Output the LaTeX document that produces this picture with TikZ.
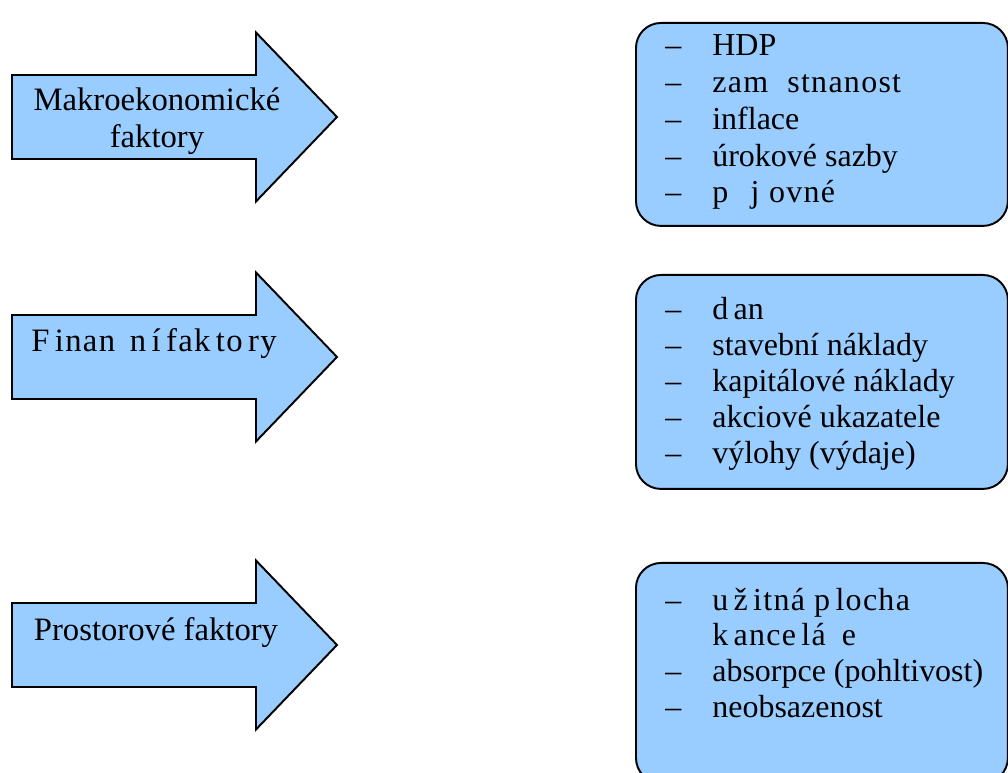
\documentclass[tikz,border=0pt]{standalone}
\usepackage{fontspec}
\setmainfont{Liberation Serif}
\newfontfamily\spaced[LetterSpace=4]{Liberation Serif}
\usetikzlibrary{positioning}
\definecolor{factorblue}{HTML}{99CCFF}
\tikzset{
  factor/.style={fill=factorblue,draw=black,line width=1.1pt,line join=miter},
  itembox/.style={fill=factorblue,draw=black,line width=1.1pt,rounded corners=0.5cm,
    anchor=north west,minimum width=7.44cm,inner sep=0pt},
  factortext/.style={font=\fontsize{18.6}{20.8}\selectfont,align=center,inner sep=0pt},
  item/.style={font=\fontsize{18.2}{20.8}\selectfont,anchor=base west,inner sep=0pt}
}
\newcommand{\dash}{\llap{\makebox[0.94cm][l]{--}}}
\newcommand{\factorarrow}[1]{%
  \draw[factor,shift={(0,#1)}] (12,-42) -- (256,-42) -- (256,-84.5) -- (337,0)
    -- (256,84.5) -- (256,42) -- (12,42) -- cycle;}

\begin{document}
\begin{tikzpicture}[x=0.02cm,y=-0.02cm]
  \useasboundingbox (0,0) rectangle (1008,773);

  % left arrows
  \factorarrow{117}
  \factorarrow{357}
  \factorarrow{645}
  \node[factortext] (makro) at (157,121) {Makroekonomické\\faktory};
  \node[factortext,anchor=base] (finan) at (154,352) {\spaced F\,inan\hspace{0.45em}n\,í\,fak\,to\,ry};
  \node[factortext,anchor=base] (prostor) at (156,640) {Prostorové faktory};

  % right lists
  \node[itembox,minimum height=4.06cm] (list1) at (635,22) {};
  \node[itembox,minimum height=4.28cm] (list2) at (635,274) {};
  \node[itembox,minimum height=4.4cm] (list3) at (635,562) {};

  \node[item] (m1) at (712,56) {\dash HDP};
  \node[item] (m2) at ([yshift=-0.734cm]m1.base west) {\dash{\spaced zam\hspace{0.6em}stnanost}};
  \node[item] (m3) at ([yshift=-0.734cm]m2.base west) {\dash inflace};
  \node[item] (m4) at ([yshift=-0.734cm]m3.base west) {\dash úrokové sazby};
  \node[item] (m5) at ([yshift=-0.734cm]m4.base west) {\dash{\spaced p\hspace{0.7em}j\hspace{0.3em}ovné}};

  \node[item] (f1) at (712,320) {\dash d\,an};
  \node[item] (f2) at ([yshift=-0.72cm]f1.base west) {\dash stavební náklady};
  \node[item] (f3) at ([yshift=-0.72cm]f2.base west) {\dash kapitálové náklady};
  \node[item] (f4) at ([yshift=-0.72cm]f3.base west) {\dash akciové ukazatele};
  \node[item] (f5) at ([yshift=-0.72cm]f4.base west) {\dash výlohy (výdaje)};

  \node[item] (p1) at (712,610) {\dash{\spaced u\,ž\,itná p\,locha}};
  \node[item] (p2) at ([yshift=-0.72cm]p1.base west) {{\spaced k\,ance\,lá\hspace{0.5em}e}};
  \node[item] (p3) at ([yshift=-0.72cm]p2.base west) {\dash absorpce (pohltivost)};
  \node[item] (p4) at ([yshift=-0.72cm]p3.base west) {\dash neobsazenost};
\end{tikzpicture}
\end{document}
